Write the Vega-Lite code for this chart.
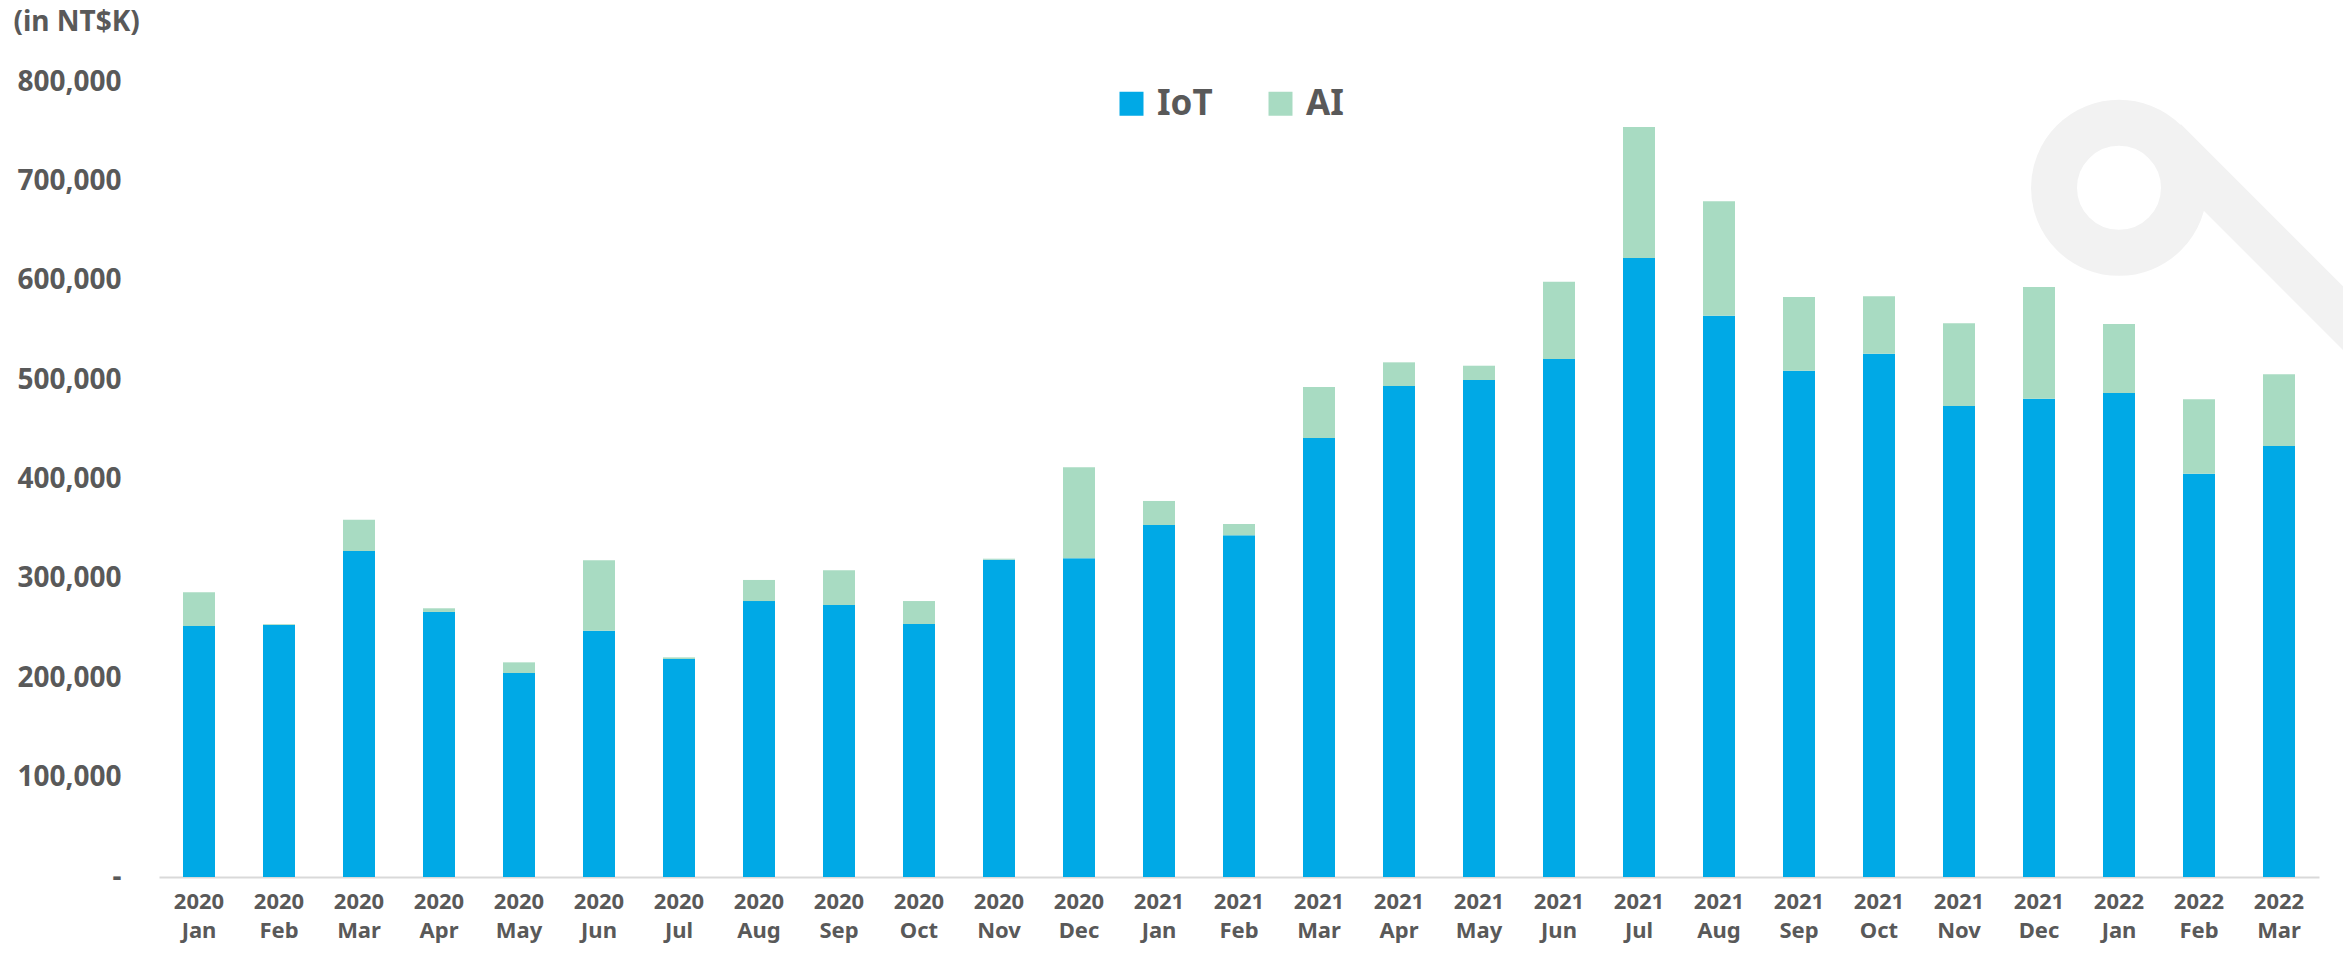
{
  "$schema": "https://vega.github.io/schema/vega-lite/v6.json",
  "width": 2160,
  "height": 795,
  "autosize": {"type": "none"},
  "padding": {"left": 159, "top": 82, "right": 24, "bottom": 76},
  "background": "#FFFFFF",
  "config": {
    "view": {"stroke": null},
    "font": "Noto Sans"
  },
  "datasets": {
    "sales": [
      {"month": "2020 Jan", "series": "IoT", "value": 252600}, {"month": "2020 Jan", "series": "AI", "value": 33900},
      {"month": "2020 Feb", "series": "IoT", "value": 253600}, {"month": "2020 Feb", "series": "AI", "value": 800},
      {"month": "2020 Mar", "series": "IoT", "value": 328000}, {"month": "2020 Mar", "series": "AI", "value": 31600},
      {"month": "2020 Apr", "series": "IoT", "value": 266700}, {"month": "2020 Apr", "series": "AI", "value": 3700},
      {"month": "2020 May", "series": "IoT", "value": 205300}, {"month": "2020 May", "series": "AI", "value": 10700},
      {"month": "2020 Jun", "series": "IoT", "value": 247900}, {"month": "2020 Jun", "series": "AI", "value": 70800},
      {"month": "2020 Jul", "series": "IoT", "value": 219400}, {"month": "2020 Jul", "series": "AI", "value": 1600},
      {"month": "2020 Aug", "series": "IoT", "value": 277700}, {"month": "2020 Aug", "series": "AI", "value": 21200},
      {"month": "2020 Sep", "series": "IoT", "value": 273700}, {"month": "2020 Sep", "series": "AI", "value": 34900},
      {"month": "2020 Oct", "series": "IoT", "value": 254600}, {"month": "2020 Oct", "series": "AI", "value": 23100},
      {"month": "2020 Nov", "series": "IoT", "value": 319300}, {"month": "2020 Nov", "series": "AI", "value": 1000},
      {"month": "2020 Dec", "series": "IoT", "value": 320700}, {"month": "2020 Dec", "series": "AI", "value": 91600},
      {"month": "2021 Jan", "series": "IoT", "value": 354200}, {"month": "2021 Jan", "series": "AI", "value": 24200},
      {"month": "2021 Feb", "series": "IoT", "value": 343800}, {"month": "2021 Feb", "series": "AI", "value": 11400},
      {"month": "2021 Mar", "series": "IoT", "value": 441800}, {"month": "2021 Mar", "series": "AI", "value": 51300},
      {"month": "2021 Apr", "series": "IoT", "value": 494100}, {"month": "2021 Apr", "series": "AI", "value": 23800},
      {"month": "2021 May", "series": "IoT", "value": 500100}, {"month": "2021 May", "series": "AI", "value": 14400},
      {"month": "2021 Jun", "series": "IoT", "value": 521300}, {"month": "2021 Jun", "series": "AI", "value": 77800},
      {"month": "2021 Jul", "series": "IoT", "value": 622900}, {"month": "2021 Jul", "series": "AI", "value": 131800},
      {"month": "2021 Aug", "series": "IoT", "value": 564800}, {"month": "2021 Aug", "series": "AI", "value": 115100},
      {"month": "2021 Sep", "series": "IoT", "value": 509500}, {"month": "2021 Sep", "series": "AI", "value": 74200},
      {"month": "2021 Oct", "series": "IoT", "value": 526600}, {"month": "2021 Oct", "series": "AI", "value": 57700},
      {"month": "2021 Nov", "series": "IoT", "value": 474000}, {"month": "2021 Nov", "series": "AI", "value": 83200},
      {"month": "2021 Dec", "series": "IoT", "value": 481300}, {"month": "2021 Dec", "series": "AI", "value": 112400},
      {"month": "2022 Jan", "series": "IoT", "value": 487100}, {"month": "2022 Jan", "series": "AI", "value": 69400},
      {"month": "2022 Feb", "series": "IoT", "value": 405800}, {"month": "2022 Feb", "series": "AI", "value": 74900},
      {"month": "2022 Mar", "series": "IoT", "value": 433700}, {"month": "2022 Mar", "series": "AI", "value": 72200}
    ],
    "logoRing": [{"idx": 24, "value": 693500}],
    "logoBand": [{"idx": 24.575, "value": 741600, "idx2": 28.26, "value2": 444800}]
  },
  "resolve": {"scale": {"x": "independent"}, "axis": {"x": "independent"}},
  "layer": [
    {
      "data": {"name": "logoRing"},
      "mark": {"type": "point", "shape": "circle", "filled": false, "stroke": "#F2F2F2", "strokeWidth": 46, "size": 16900, "opacity": 1},
      "encoding": {
        "x": {"field": "idx", "type": "quantitative", "scale": {"domain": [-0.5, 26.5], "nice": false, "zero": false}, "axis": null},
        "y": {
          "field": "value", "type": "quantitative",
          "scale": {"domain": [0, 800000], "nice": false},
          "axis": {
            "title": "(in NT$K)",
            "titleAngle": 0, "titleAlign": "left", "titleBaseline": "middle",
            "titleX": -146, "titleY": -60,
            "titleFont": "Noto Sans", "titleFontSize": 28, "titleFontWeight": "bold", "titleColor": "#595959",
            "values": [0, 100000, 200000, 300000, 400000, 500000, 600000, 700000, 800000],
            "labelExpr": "datum.value == 0 ? '-\u00a0\u00a0\u00a0' : format(datum.value, ',')",
            "labelFont": "Noto Sans", "labelFontSize": 28, "labelFontWeight": "bold", "labelColor": "#595959",
            "labelPadding": 38,
            "ticks": false, "domain": false, "grid": false
          }
        }
      }
    },
    {
      "data": {"name": "logoBand"},
      "mark": {"type": "rule", "stroke": "#F2F2F2", "strokeWidth": 45, "strokeCap": "butt"},
      "encoding": {
        "x": {"field": "idx", "type": "quantitative", "scale": {"domain": [-0.5, 26.5], "nice": false, "zero": false}, "axis": null},
        "x2": {"field": "idx2"},
        "y": {"field": "value", "type": "quantitative"},
        "y2": {"field": "value2"}
      }
    },
    {
      "data": {"name": "sales"},
      "mark": {"type": "bar"},
      "encoding": {
        "x": {
          "field": "month", "type": "nominal", "sort": null,
          "scale": {"paddingInner": 0.6, "paddingOuter": 0.3},
          "axis": {
            "title": null,
            "labelAngle": 0,
            "labelExpr": "split(datum.label, ' ')",
            "labelFont": "Noto Sans", "labelFontSize": 22, "labelFontWeight": "bold", "labelColor": "#595959",
            "labelLineHeight": 29, "labelPadding": 14, "labelBaseline": "top",
            "ticks": false,
            "domain": true, "domainColor": "#D9D9D9", "domainWidth": 2,
            "grid": false
          }
        },
        "y": {
          "field": "value", "type": "quantitative", "stack": "zero"
        },
        "color": {
          "field": "series", "type": "nominal", "sort": ["IoT", "AI"],
          "scale": {"domain": ["IoT", "AI"], "range": ["#00A9E6", "#A8DBC2"]},
          "legend": {
            "title": null,
            "orient": "none", "direction": "horizontal",
            "legendX": 955, "legendY": 4,
            "symbolType": "square", "symbolSize": 576, "symbolStrokeWidth": 0, "symbolOpacity": 1,
            "labelFont": "Noto Sans", "labelFontSize": 35, "labelFontWeight": "bold", "labelColor": "#595959",
            "labelOffset": 8, "columnPadding": 50
          }
        }
      }
    }
  ]
}
